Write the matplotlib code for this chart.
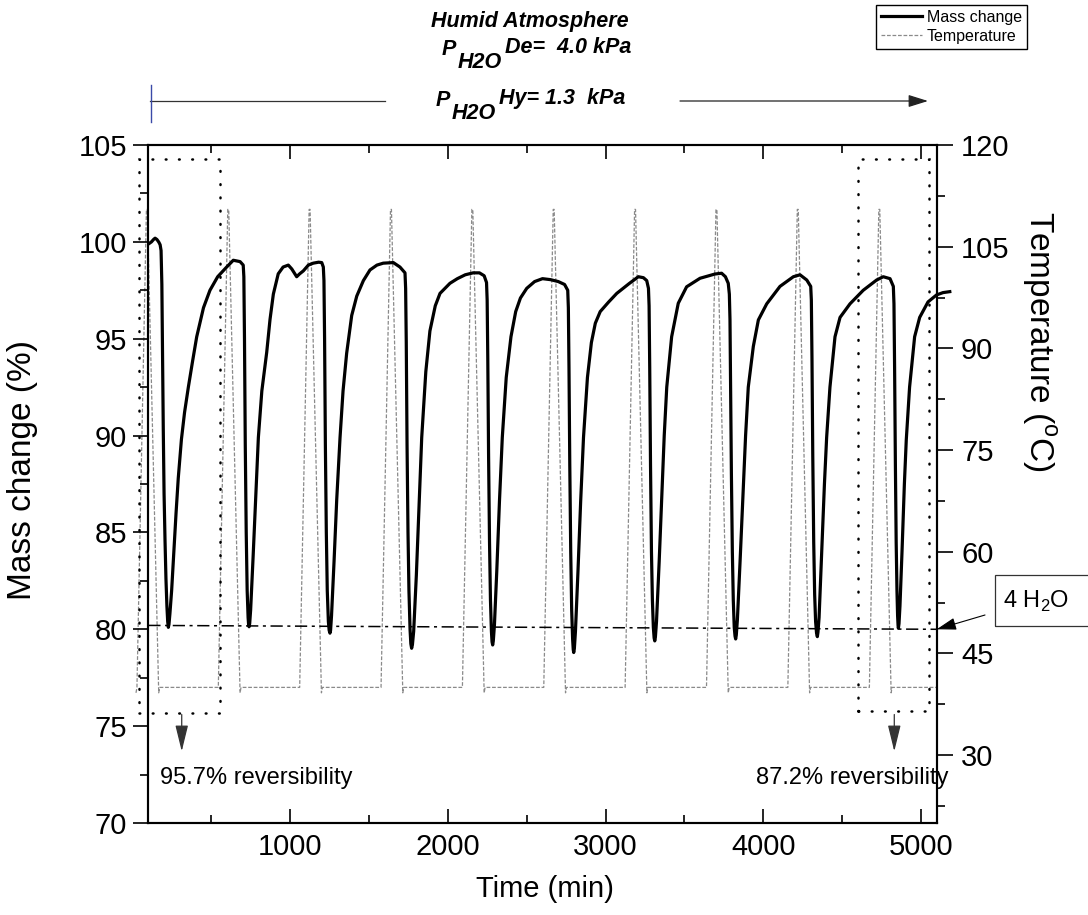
import matplotlib.pyplot as plt
import matplotlib.patches as patches
from matplotlib.lines import Line2D
from matplotlib.ticker import MultipleLocator

plt.rcParams['font.family'] = ['Liberation Sans', 'DejaVu Sans']
plt.rcParams['mathtext.fontset'] = 'custom'
plt.rcParams['mathtext.rm'] = 'Liberation Sans'

# mass change curve (time in min, mass in %), one line per cycle
time_mass = [
    108, 120, 133, 143, 155, 167, 175, 181, 186, 190, 195, 200, 206, 212, 218, 223, 227,
    231, 237, 248, 262, 276, 290, 310, 330, 354, 380, 407, 450, 491, 540, 597, 639, 682, 702,
    706, 710, 715, 721, 727, 733, 736, 739,
    743, 749, 765, 780, 798, 820, 851, 872, 893, 924, 955, 988, 1010, 1041, 1060, 1083, 1115, 1146, 1180, 1200, 1210,
    1214, 1218, 1223, 1229, 1235, 1242, 1247, 1252,
    1256, 1262, 1278, 1295, 1316, 1335, 1358, 1390, 1422, 1464, 1506, 1550, 1590, 1654, 1696, 1728,
    1732, 1736, 1741, 1747, 1753, 1760, 1765, 1770,
    1775, 1783, 1800, 1818, 1834, 1860, 1886, 1920, 1950, 2013, 2060, 2110, 2160, 2200, 2230, 2245,
    2249, 2253, 2258, 2264, 2270, 2276, 2280, 2284,
    2288, 2295, 2310, 2327, 2345, 2370, 2400, 2430, 2460, 2500, 2550, 2600, 2650, 2700, 2740, 2760,
    2764, 2768, 2773, 2779, 2785, 2791, 2795, 2798,
    2802, 2809, 2825, 2842, 2860, 2885, 2910, 2935, 2966, 3020, 3071, 3150, 3208, 3240, 3261, 3272,
    3276, 3280, 3285, 3291, 3297, 3303, 3308, 3312,
    3316, 3323, 3340, 3358, 3372, 3388, 3419, 3461, 3514, 3599, 3694, 3736, 3760, 3778, 3785,
    3789, 3793, 3798, 3804, 3810, 3816, 3821, 3825,
    3829, 3836, 3853, 3872, 3888, 3905, 3937, 3969, 4022, 4106, 4191, 4233, 4276, 4301,
    4305, 4309, 4314, 4320, 4326, 4332, 4338, 4343,
    4347, 4354, 4370, 4388, 4402, 4423, 4455, 4487, 4550, 4634, 4719, 4761, 4804, 4825,
    4829, 4833, 4838, 4843, 4848, 4852, 4855, 4857,
    4861, 4867, 4880, 4895, 4907, 4928, 4960, 4992, 5045, 5099, 5140, 5183,
]
mass = [
    99.93, 100.0, 100.12, 100.19, 100.12, 99.98, 99.85, 99.55, 97.8, 94.5, 90.3, 87.0, 84.6, 82.6, 81.2, 80.4, 80.1,
    80.25, 80.8, 82.0, 84.0, 86.0, 87.8, 89.8, 91.2, 92.5, 93.8, 95.1, 96.6, 97.5, 98.2, 98.7, 99.05, 98.98, 98.8,
    98.2, 95.0, 89.5, 85.0, 82.0, 80.6, 80.25, 80.13,
    80.3, 81.0, 83.8, 86.6, 89.9, 92.3, 94.3, 96.0, 97.3, 98.35, 98.7, 98.8, 98.6, 98.2, 98.35, 98.5, 98.8, 98.9, 98.95, 98.93, 98.7,
    98.0, 95.0, 89.5, 85.0, 82.0, 80.4, 79.95, 79.8,
    79.95, 80.7, 83.5, 86.7, 89.9, 92.3, 94.25, 96.2, 97.2, 98.0, 98.55, 98.8, 98.9, 98.93, 98.7, 98.4,
    97.6, 94.8, 89.5, 85.0, 82.0, 80.0, 79.25, 79.02,
    79.2, 79.9, 82.8, 86.5, 89.9, 93.3, 95.4, 96.7, 97.34, 97.86, 98.1, 98.3, 98.4, 98.4, 98.25, 97.9,
    97.0, 94.0, 89.0, 84.5, 81.5, 79.9, 79.35, 79.19,
    79.4, 80.2, 83.0, 86.6, 89.9, 93.0, 95.1, 96.4, 97.1, 97.6, 97.95, 98.1, 98.05, 97.95, 97.8, 97.5,
    96.6, 93.5, 88.5, 84.0, 81.0, 79.5, 78.95, 78.8,
    79.0, 79.9, 83.0, 86.6, 89.9, 93.0, 94.8, 95.8, 96.4, 96.9, 97.34, 97.85, 98.2, 98.15, 98.0, 97.6,
    96.7, 93.5, 88.5, 84.0, 81.5, 80.1, 79.55, 79.4,
    79.6, 80.4, 83.5, 87.2, 90.0, 92.5, 95.1, 96.83, 97.68, 98.12, 98.34, 98.38, 98.2, 97.86, 97.3,
    96.0, 92.5, 88.0, 84.0, 81.5, 80.1, 79.65, 79.5,
    79.7, 80.5, 83.5, 87.0, 90.0, 92.5, 94.6, 95.97, 96.8, 97.7, 98.2, 98.3, 98.03, 97.7,
    97.0, 94.0, 89.0, 84.5, 81.8, 80.4, 79.8, 79.62,
    79.85, 80.6, 83.8, 87.5, 89.9, 92.5, 95.1, 96.1, 96.8, 97.5, 98.03, 98.2, 98.1, 97.7,
    96.8, 93.5, 88.5, 84.5, 82.0, 80.7, 80.2, 80.05,
    80.3, 81.2, 84.0, 87.5, 89.77, 92.5, 95.1, 96.1, 96.9, 97.26, 97.38, 97.43,
]

# temperature programme (time in min, temperature in C), one line per spike
time_temp = [
    22, 28, 88, 94, 166, 172,
    544, 604, 610, 682, 688,
    1060, 1120, 1126, 1198, 1204,
    1576, 1636, 1642, 1714, 1720,
    2092, 2152, 2158, 2230, 2236,
    2608, 2668, 2674, 2746, 2752,
    3124, 3184, 3190, 3262, 3268,
    3640, 3700, 3706, 3778, 3784,
    4156, 4216, 4222, 4294, 4300,
    4673, 4733, 4739, 4811, 4817, 5100,
]
temp = [
    39.2, 40, 110.5, 110.5, 39.2, 40,
    40, 110.5, 110.5, 39.2, 40,
    40, 110.5, 110.5, 39.2, 40,
    40, 110.5, 110.5, 39.2, 40,
    40, 110.5, 110.5, 39.2, 40,
    40, 110.5, 110.5, 39.2, 40,
    40, 110.5, 110.5, 39.2, 40,
    40, 110.5, 110.5, 39.2, 40,
    40, 110.5, 110.5, 39.2, 40,
    40, 110.5, 110.5, 39.2, 40, 40,
]

# 4 H2O reference level
h2o_time = [100, 5100]
h2o_mass = [80.2, 80.0]

# dotted boxes: (t0, t1, m0, m1) and reversibility labels
box_first = (41, 555, 75.7, 104.3)
box_last = (4603, 5051, 75.8, 104.3)
rev_labels = ['95.7% reversibility', '87.2% reversibility']

W, H = 1088, 915


def fpx(x, y):
    # figure pixel (top-left origin) -> figure fraction
    return x / W, 1 - y / H


fig = plt.figure(figsize=(W / 100, H / 100), dpi=100)
ax = fig.add_axes([148.3 / W, 1 - 823 / H, (936.7 - 148.3) / W, (823 - 145) / H])
ax2 = ax.twinx()
ax.set_zorder(ax2.get_zorder() + 1)
ax.patch.set_visible(False)

temp_line, = ax2.plot(time_temp, temp, color='#8a8a8a', lw=0.9, ls=(0, (3, 1.4)), clip_on=False)
mass_line, = ax.plot(time_mass, mass, color='black', lw=2.3, solid_joinstyle='round', clip_on=False, zorder=4)
ax.plot(h2o_time, h2o_mass, color='black', lw=1.1, ls=(0, (8, 3, 2, 3)), zorder=3)

ax.set_xlim(100, 5100)
ax.set_ylim(70, 105)
ax2.set_ylim(20, 120)

ax.xaxis.set_major_locator(MultipleLocator(1000))
ax.xaxis.set_minor_locator(MultipleLocator(500))
ax.yaxis.set_major_locator(MultipleLocator(5))
ax.yaxis.set_minor_locator(MultipleLocator(2.5))
ax2.yaxis.set_major_locator(MultipleLocator(15))
ax2.yaxis.set_minor_locator(MultipleLocator(7.5))

for a in (ax, ax2):
    for s in a.spines.values():
        s.set_linewidth(1.5)

ax.tick_params(axis='x', which='both', direction='in', top=True, bottom=True, width=1.2, labelsize=21, pad=7)
ax.tick_params(axis='x', which='major', length=10)
ax.tick_params(axis='x', which='minor', length=6)
ax.tick_params(axis='y', which='both', direction='out', left=True, right=False, width=1.2, labelsize=21, pad=5)
ax.tick_params(axis='y', which='major', length=10.5)
ax.tick_params(axis='y', which='minor', length=6)
ax2.tick_params(axis='y', which='both', direction='out', width=1.2, labelsize=21, pad=6)
ax2.tick_params(axis='y', which='major', length=11.5)
ax2.tick_params(axis='y', which='minor', length=6)

ax.set_xlabel('Time (min)', fontsize=21)
ax.xaxis.set_label_coords(0.503, -0.077)
ax.set_ylabel('Mass change (%)', fontsize=24)
ax.yaxis.set_label_coords(-0.14, 0.52)
ax2.set_ylabel('Temperature ($^\\mathregular{o}$C)', fontsize=24, rotation=-90, va='center')
ax2.yaxis.set_label_coords(1.13, 0.71)

# dotted boxes round the first and last cycles, with arrows to the labels
for (t0, t1, m0, m1) in (box_first, box_last):
    rect = patches.Rectangle((t0, m0), t1 - t0, m1 - m0, fill=False, ec='black', lw=1.8,
                             ls=(0, (0.3, 5.0)), capstyle='round', clip_on=False, zorder=5)
    ax.add_patch(rect)

for t_arrow in (312, 4831):
    ax.annotate('', xy=(t_arrow, 73.7), xytext=(t_arrow, 75.6),
                arrowprops=dict(arrowstyle='-|>,head_length=0.9,head_width=0.22', color='#333333',
                                lw=0.9, mutation_scale=18, shrinkA=0, shrinkB=0),
                annotation_clip=False)

ax.text(175, 72.3, rev_labels[0], fontsize=17, ha='left', va='center')
ax.text(5172, 72.3, rev_labels[1], fontsize=17, ha='right', va='center', clip_on=False)

# 4 H2O callout
fig.add_artist(patches.Rectangle(fpx(995, 626), 100 / W, 51 / H, transform=fig.transFigure,
                                 fill=False, ec='#333333', lw=0.9))
fig.text(*fpx(1003, 601), '4 H$_\\mathregular{2}$O', fontsize=17, ha='left', va='center')
ax.annotate('', xy=(5100, 80.0), xytext=(985, H - 615), textcoords='figure pixels',
            arrowprops=dict(arrowstyle='-|>,head_length=0.8,head_width=0.25', color='black',
                            lw=0.8, mutation_scale=15, shrinkA=0, shrinkB=0),
            annotation_clip=False)

# atmosphere annotation at the top
top_font = dict(fontsize=15.5, fontweight='bold', fontstyle='italic')
fig.text(*fpx(530, 27), 'Humid Atmosphere', ha='center', va='baseline', **top_font)
fig.text(*fpx(442, 55), 'P', ha='left', va='baseline', **top_font)
fig.text(*fpx(458, 68), 'H2O', ha='left', va='baseline', **top_font)
fig.text(*fpx(505, 53), 'De=  4.0 kPa', ha='left', va='baseline', **top_font)
fig.text(*fpx(436, 106), 'P', ha='left', va='baseline', **top_font)
fig.text(*fpx(452, 119), 'H2O', ha='left', va='baseline', **top_font)
fig.text(*fpx(499, 104), 'Hy= 1.3  kPa', ha='left', va='baseline', **top_font)

x0, y0 = fpx(150, 101)
x1, _ = fpx(385, 101)
fig.add_artist(Line2D([x0, x1], [y0, y0], transform=fig.transFigure, color='#333333', lw=0.9))
bx, by0 = fpx(151, 85)
_, by1 = fpx(151, 122)
fig.add_artist(Line2D([bx, bx], [by0, by1], transform=fig.transFigure, color='#3a4aa8', lw=1.0))
ax.annotate('', xy=(928, H - 101), xycoords='figure pixels', xytext=(680, H - 101),
            textcoords='figure pixels',
            arrowprops=dict(arrowstyle='-|>,head_length=0.8,head_width=0.25', color='#222222',
                            lw=0.9, mutation_scale=15, shrinkA=0, shrinkB=0))

fig.legend([mass_line, temp_line], ['Mass change', 'Temperature'], loc='upper right',
           bbox_to_anchor=fpx(1027, 5), fontsize=11.5, frameon=True, fancybox=False,
           edgecolor='black', framealpha=1, borderpad=0.3, labelspacing=0.25,
           handlelength=2.6, handletextpad=0.3, borderaxespad=0)

fig.savefig('out.png', dpi=100)
